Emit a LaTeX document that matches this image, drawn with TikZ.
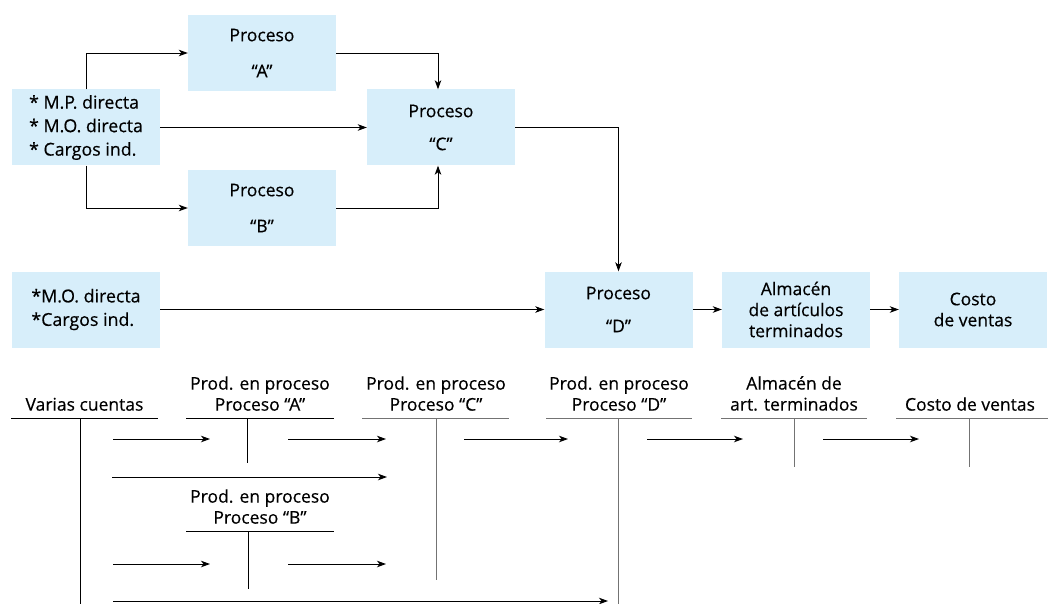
\documentclass[tikz,border=0pt]{standalone}
\usepackage{fontspec}
\setmainfont{Open Sans}[UprightFeatures={FakeBold=0.4}]
\usetikzlibrary{arrows.meta}
\definecolor{boxblue}{RGB}{215,238,250}
\begin{document}
\begin{tikzpicture}[x=1pt,y=-1pt,
  font=\fontsize{17.5}{21}\selectfont,
  box/.style={fill=boxblue, minimum width=148pt, minimum height=76pt,
    inner sep=0pt, align=center},
  listbox/.style={box, align=left, font=\fontsize{17.8}{23.5}\selectfont},
  arr/.style={-{Stealth[length=9pt,width=6.5pt,inset=2.5pt]}, line width=0.9pt},
  tline/.style={line width=1pt},
  tgray/.style={line width=1pt, draw=black!55},
  lab/.style={align=center, inner sep=0pt, anchor=south,
    font=\fontsize{17.5}{21}\selectfont}]
\useasboundingbox (0,0) rectangle (1051,604);

% ---- flow of costs through the processes ----
\node[box] (A) at (262,53) {Proceso\\[15pt]“A”};
\node[box] (B) at (262,208) {Proceso\\[15pt]“B”};
\node[box] (C) at (441,127.5) {Proceso\\[12pt]“C”};
\node[listbox] (L) at (86,127.5) {* M.P. directa\\* M.O. directa\\* Cargos ind.};
\node[listbox] (L2) at (86,309.5) {*M.O. directa\\*Cargos ind.};
\node[box] (D) at (618.5,309.5) {Proceso\\[12pt]“D”};
\node[box] (M) at (796,309.5) {Almacén\\de artículos\\terminados};
\node[box] (K) at (973,309.5) {Costo\\de ventas};

\draw[arr] (L.north) |- (A.west);
\draw[arr] (L.south) |- (B.west);
\draw[arr] (L.east) -- (C.west);
\draw[arr] (A.east) -| ([xshift=-3pt]C.north);
\draw[arr] (B.east) -| ([xshift=-3pt]C.south);
\draw[arr] (C.east) -| (D.north);
\draw[arr] (L2.east) -- (D.west);
\draw[arr] (D.east) -- (M.west);
\draw[arr] (M.east) -- (K.west);

% ---- T accounts ----
\node[lab] (tV) at (84.5,411) {Varias cuentas};
\node[lab] (tA) at (260,411) {Prod. en proceso\\Proceso “A”};
\node[lab] (tC) at (436,411) {Prod. en proceso\\Proceso “C”};
\node[lab] (tD) at (619,411) {Prod. en proceso\\Proceso “D”};
\node[lab] (tM) at (794,411) {Almacén de\\art. terminados};
\node[lab] (tK) at (970,411) {Costo de ventas};
\node[lab] (tB) at (260,524) {Prod. en proceso\\Proceso “B”};

\draw[tline] (11,418) -- (158,418) (80,418) -- (80,604);
\draw[tline] (186,418) -- (334,418) (247,418) -- (247,463);
\draw[tline] (186,531) -- (334,531) (248,531) -- (248,589);
\draw[tgray] (362,418) -- (509,418) (436,418) -- (436,580);
\draw[tgray] (546,418) -- (692,418) (618,418) -- (618,604);
\draw[tgray] (721,418) -- (867,418) (794,418) -- (794,467);
\draw[tgray] (896,418) -- (1048,418) (969,418) -- (969,467);

% ---- postings between accounts ----
\coordinate (v1) at (113,439);  \coordinate (a1) at (210,439);
\coordinate (a2) at (288,439);  \coordinate (c1) at (386,439);
\coordinate (c2) at (464,439);  \coordinate (d1) at (568,439);
\coordinate (d2) at (647,439);  \coordinate (m1) at (743,439);
\coordinate (m2) at (823,439);  \coordinate (k1) at (919,439);
\coordinate (v2) at (112,477);  \coordinate (c3) at (387,477);
\coordinate (v3) at (113,564);  \coordinate (b1) at (210,564);
\coordinate (b2) at (288,564);  \coordinate (c4) at (386,564);
\coordinate (v4) at (113,601);  \coordinate (d3) at (608,601);

\draw[arr] (v1) -- (a1);
\draw[arr] (a2) -- (c1);
\draw[arr] (c2) -- (d1);
\draw[arr] (d2) -- (m1);
\draw[arr] (m2) -- (k1);
\draw[arr] (v2) -- (c3);
\draw[arr] (v3) -- (b1);
\draw[arr] (b2) -- (c4);
\draw[arr] (v4) -- (d3);
\end{tikzpicture}
\end{document}
